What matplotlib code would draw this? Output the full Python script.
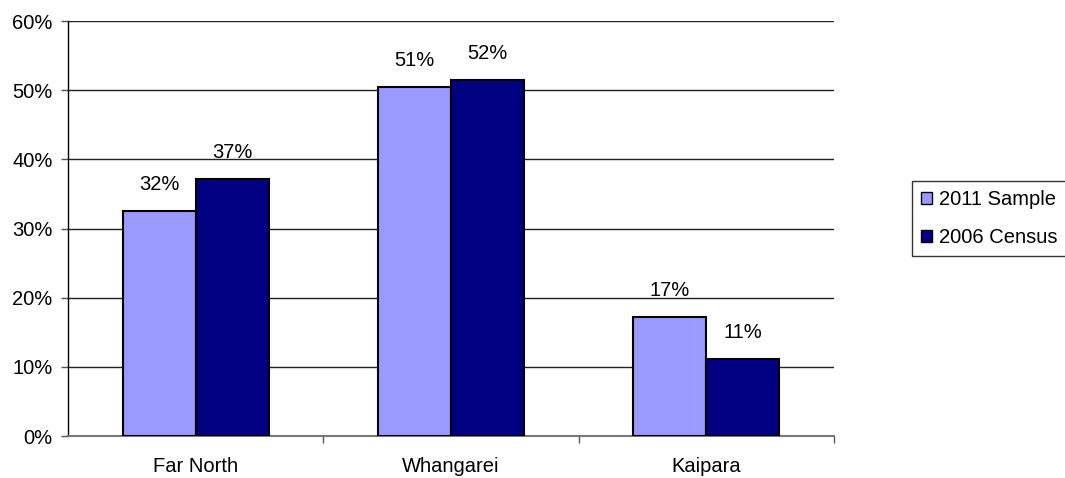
import matplotlib
matplotlib.use("Agg")
import matplotlib.pyplot as plt
import numpy as np
from matplotlib.ticker import FuncFormatter, FixedLocator

categories = ["Far North", "Whangarei", "Kaipara"]
series_names = ["2011 Sample", "2006 Census"]
sample_2011 = [0.325, 0.505, 0.172]
census_2006 = [0.372, 0.514, 0.111]
label_2011 = ["32%", "51%", "17%"]
label_2006 = ["37%", "52%", "11%"]
colors = ["#9999FF", "#000080"]

plt.rcParams['font.family'] = ['Liberation Sans', 'DejaVu Sans']
FS = 14.5

fig = plt.figure(figsize=(10.65, 4.78), dpi=100)
ax = fig.add_axes([68/1065, 42/478, (834-68)/1065, (436-21)/478])

x = np.arange(len(categories))
w = 0.286
bars = []
for vals, labs, off, col, name in [(sample_2011, label_2011, -w/2, colors[0], series_names[0]),
                                   (census_2006, label_2006, w/2, colors[1], series_names[1])]:
    b = ax.bar(x + off, vals, width=w, color=col, edgecolor='black', linewidth=1.5,
               label=name, zorder=3)
    bars.append(b)
    for xi, v, lab in zip(x + off, vals, labs):
        ax.annotate(lab, (xi, v), xytext=(0, 17), textcoords='offset pixels',
                    ha='center', va='bottom', fontsize=FS, color='black', zorder=4)

ax.set_xlim(-0.5, 2.5)
ax.set_ylim(0, 0.6)
ax.set_yticks(np.arange(0, 0.61, 0.1))
ax.yaxis.set_major_formatter(FuncFormatter(lambda v, p: f"{v*100:.0f}%"))
ax.grid(axis='y', color='#222222', linewidth=1.0, zorder=0)
ax.set_axisbelow(True)

ax.set_xticks(x)
ax.set_xticklabels(categories)
ax.xaxis.set_minor_locator(FixedLocator([0.5, 1.5, 2.5]))
ax.tick_params(axis='x', which='major', length=0, pad=15, labelsize=FS)
ax.tick_params(axis='x', which='minor', length=5, width=1, color='#555555', direction='out')
ax.tick_params(axis='y', which='major', length=5, width=1, color='#555555', labelsize=FS, pad=6)

for s in ['top', 'right']:
    ax.spines[s].set_visible(False)
ax.spines['left'].set_color('black')
ax.spines['left'].set_linewidth(1.0)
ax.spines['bottom'].set_color('#777777')
ax.spines['bottom'].set_linewidth(1.5)

leg = fig.legend(handles=bars, labels=series_names, loc='upper left',
                 bbox_to_anchor=(912/1065, 1 - 181/478), fontsize=FS,
                 frameon=True, fancybox=False, edgecolor='black',
                 handlelength=0.55, handleheight=0.55, handletextpad=0.35,
                 labelspacing=0.95, borderpad=0.45, borderaxespad=0)
leg.get_frame().set_linewidth(1.0)
for h in leg.legend_handles:
    h.set_linewidth(1.0)

fig.savefig("out.png", dpi=100)
